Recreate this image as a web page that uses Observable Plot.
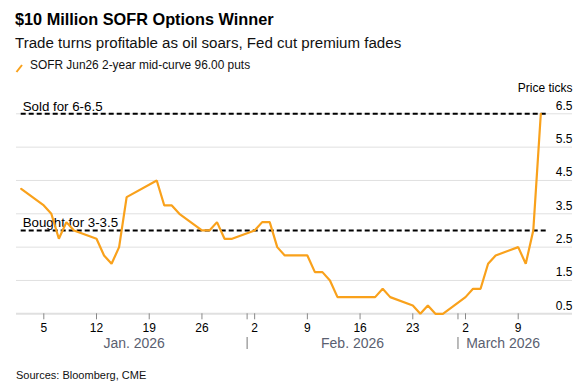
<!DOCTYPE html>
<html><head><meta charset="utf-8">
<script src="https://cdn.jsdelivr.net/npm/d3@7"></script>
<script src="https://cdn.jsdelivr.net/npm/@observablehq/plot@0.6"></script>
<style>
body{margin:0;width:582px;height:392px;position:relative;background:#fff;font-family:"Liberation Sans",Arial,sans-serif;overflow:hidden}
.t{position:absolute;left:15px;white-space:nowrap;line-height:1}
#title{top:10.5px;font-size:16.3px;font-weight:bold;color:#000}
#sub{top:34.6px;font-size:15.1px;color:#111}
#leg{top:59.5px;left:30px;font-size:11.9px;color:#111}
#legicon{position:absolute;left:15px;top:63px}
#chart{position:absolute;left:0;top:80px}
#src{top:370.3px;left:16px;font-size:11px;color:#111}
</style></head><body>
<div id="title" class="t">$10 Million SOFR Options Winner</div>
<div id="sub" class="t">Trade turns profitable as oil soars, Fed cut premium fades</div>
<svg id="legicon" width="10" height="11"><line x1="1.5" y1="9" x2="7" y2="2" stroke="#f9a11b" stroke-width="2"/></svg>
<div id="leg" class="t">SOFR Jun26 2-year mid-curve 96.00 puts</div>
<div id="chart"></div>
<div id="src" class="t">Sources: Bloomberg, CME</div>
<script>
const dates = ["2026-01-02","2026-01-05","2026-01-06","2026-01-07","2026-01-08","2026-01-09",
"2026-01-12","2026-01-13","2026-01-14","2026-01-15","2026-01-16",
"2026-01-20","2026-01-21","2026-01-22","2026-01-23",
"2026-01-26","2026-01-27","2026-01-28","2026-01-29","2026-01-30",
"2026-02-02","2026-02-03","2026-02-04","2026-02-05","2026-02-06",
"2026-02-09","2026-02-10","2026-02-11","2026-02-12","2026-02-13",
"2026-02-17","2026-02-18","2026-02-19","2026-02-20",
"2026-02-23","2026-02-24","2026-02-25","2026-02-26","2026-02-27",
"2026-03-02","2026-03-03","2026-03-04","2026-03-05","2026-03-06",
"2026-03-09","2026-03-10","2026-03-11","2026-03-12"];
const values = [4.25,3.75,3.5,2.75,3.25,3.0,
2.75,2.25,2.0,2.5,4.0,
4.5,3.75,3.75,3.5,
3.0,3.0,3.25,2.75,2.75,
3.0,3.25,3.25,2.5,2.25,
2.25,1.75,1.75,1.5,1.0,
1.0,1.0,1.25,1.0,
0.75,0.5,0.75,0.5,0.5,
1.0,1.25,1.25,2.0,2.25,
2.5,2.0,3.0,6.5];
const yTicks = [0.5,1.5,2.5,3.5,4.5,5.5,6.5];
const levels = [3.0, 6.5];
const levelLabels = ["Bought for 3-3.5","Sold for 6-6.5"];
const monthNames = ["Jan. 2026","Feb. 2026","March 2026"];
const yTitle = "Price ticks";

const data = dates.map((d,i)=>({date:new Date(d+"T00:00:00Z"), value:values[i]}));
const firstDate = data[0].date, lastDate = data[data.length-1].date;
const endDate = d3.utcDay.offset(lastDate, 1);
const monthStarts = d3.utcMonth.range(d3.utcMonth.floor(firstDate), endDate);
const months = monthStarts.map((m,i)=>{
  const s = Math.max(+m, +firstDate), e = Math.min(+d3.utcMonth.offset(m,1), +endDate);
  return {label: monthNames[i], x: new Date((s+e)/2)};
});
const seps = monthStarts.filter(m => m > firstDate);
const mondays = d3.utcMonday.range(firstDate, endDate);
const orange = "#f9a11b";

const chart = Plot.plot({
  width: 582, height: 280,
  marginTop: 33.3, marginBottom: 46.7, marginLeft: 16, marginRight: 10,
  style: {fontFamily: '"Liberation Sans",Arial,sans-serif', background: "transparent", overflow: "visible"},
  x: {type: "utc", domain: [new Date(Date.UTC(2026,0,1,9)), new Date(Date.UTC(2026,2,16,5))]},
  y: {domain: [0.5, 6.5], axis: null},
  marks: [
    Plot.ruleY(yTicks.filter(d => d > 0.5), {y: d => d, stroke: "#e0e0e0", strokeWidth: 1}),
    Plot.ruleY([0.5], {y: d => d, stroke: "#e0e0e0", strokeWidth: 2}),
    Plot.axisX({ticks: [...mondays, ...seps], tickFormat: d => d.getUTCDay() === 1 ? d3.utcFormat("%-d")(d) : "",
      tickSize: 6, tickPadding: 4, fontSize: 12, stroke: "#888", fill: "#000", label: null}),
    Plot.ruleX(seps, {x: d => d, y1: () => 0.5, y2: () => 0.5, insetTop: 23.7, insetBottom: -35.7, stroke: "#777", strokeWidth: 1}),
    Plot.text(months, {x: "x", text: "label", frameAnchor: "bottom", lineAnchor: "middle", dy: 29.4, fontSize: 14, fill: "#5a6070"}),
    Plot.text(yTicks, {y: d => d, text: d => d3.format(".1f")(d), frameAnchor: "right", textAnchor: "end", lineAnchor: "bottom", dy: -4, fontSize: 12, fill: "#000"}),
    Plot.text([yTitle], {frameAnchor: "top-right", textAnchor: "end", lineAnchor: "middle", dy: -25.3, fontSize: 12, fill: "#000"}),
    Plot.ruleY(levels, {y: d => d, x1: () => firstDate, x2: () => endDate, stroke: "#000", strokeWidth: 2, strokeDasharray: "5,3"}),
    Plot.text(levels, {x: () => firstDate, y: d => d, text: (d,i) => levelLabels[i], textAnchor: "start", lineAnchor: "bottom", dx: 1.5, dy: -3, fontSize: 13.3, fill: "#000"}),
    Plot.line(data, {x: "date", y: "value", stroke: orange, strokeWidth: 2.2, strokeLinejoin: "miter", curve: "linear"})
  ]
});
document.getElementById("chart").appendChild(chart);
</script>
</body></html>
